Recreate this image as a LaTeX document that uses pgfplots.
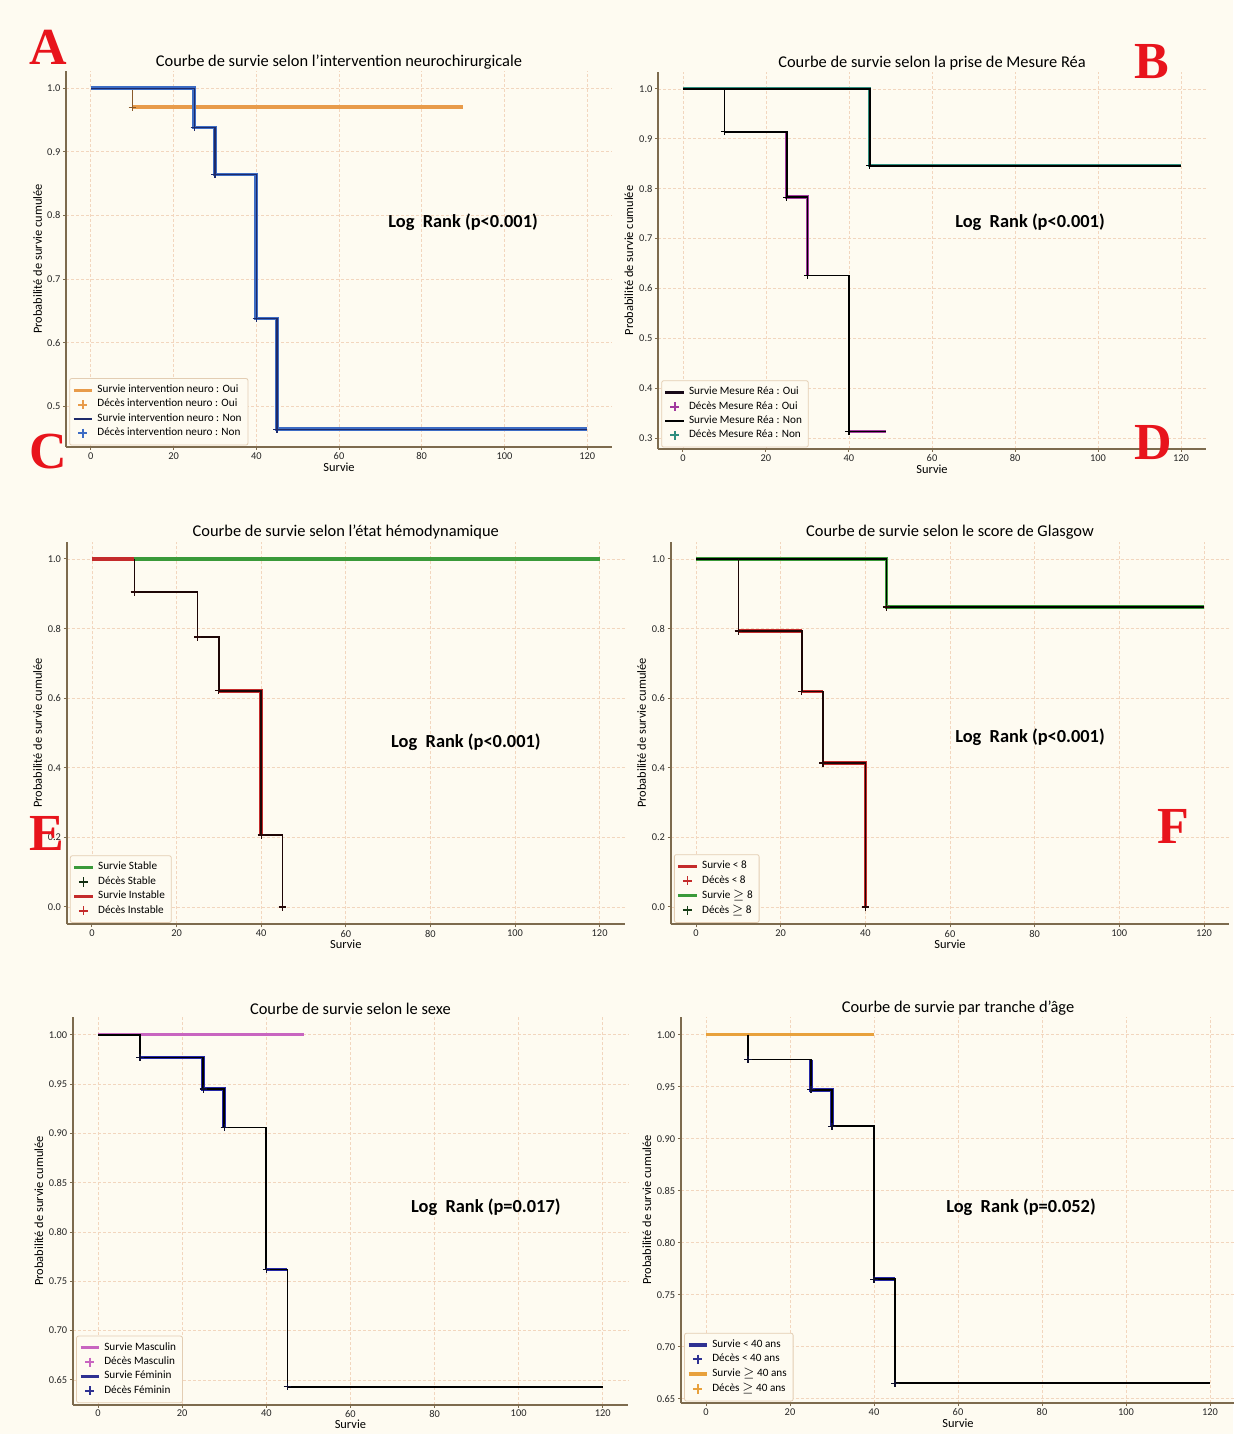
\documentclass[border=0pt]{standalone}
\usepackage{fontspec}
\setmainfont{Carlito}
\newfontfamily\letterfont{Liberation Serif}
\usepackage{pgfplots}
\pgfplotsset{compat=1.18}
\definecolor{bg}{HTML}{FEFBF1}
\definecolor{gridc}{HTML}{F2D6BE}
\definecolor{spine}{HTML}{7D6B4E}
\definecolor{legc}{HTML}{E3CDB3}
\definecolor{orangeA}{HTML}{E89B4A}
\definecolor{brownA}{HTML}{8A5A2A}
\definecolor{blueA}{HTML}{3D6CC4}
\definecolor{navyA}{HTML}{1E2A6A}
\definecolor{magB}{HTML}{A23A9E}
\definecolor{tealB}{HTML}{2F8F7F}
\definecolor{greenE}{HTML}{3A9A3A}
\definecolor{redE}{HTML}{C42B2B}
\definecolor{orchidG}{HTML}{C865C0}
\definecolor{navyG}{HTML}{2E3192}
\definecolor{orangeH}{HTML}{E8A13C}
\definecolor{letterred}{HTML}{E8141C}
\tikzset{lr/.style={font=\bfseries\fontsize{9.2}{11}\selectfont}}
\pgfplotsset{
 km/.style={
  scale only axis,
  axis x line*=bottom, axis y line*=left,
  axis line style={spine, line width=1.1pt},
  xmin=-6, xmax=126,
  xtick={0,20,40,60,80,100,120},
  grid=major,
  grid style={gridc, dash pattern=on 1.5pt off 1pt, line width=0.4pt},
  tick style={spine, line width=0.5pt},
  major tick length=1.5pt,
  tick align=outside,
  ticklabel style={font=\fontsize{5.2}{6}\selectfont, text=black!85, inner sep=0.6pt},
  xticklabel style={yshift=-0.5pt},
  yticklabel style={xshift=-0.5pt},
  /pgf/number format/assume math mode=true,
  every axis title shift=0pt,
  title style={font=\fontsize{8.2}{10}\selectfont, at={(0.5,1)}, anchor=south, yshift=-2.5pt},
  xlabel=Survie,
  ylabel={Probabilité de survie cumulée},
  xlabel style={font=\fontsize{6.2}{7}\selectfont, at={(axis description cs:0.5,0)}, anchor=center, yshift=-10pt},
  ylabel style={font=\fontsize{6.2}{7}\selectfont, at={(axis description cs:-0.052,0.5)}, anchor=center},
  legend style={at={(0.006,0.004)}, anchor=south west, font=\fontsize{5.6}{6.2}\selectfont,
    draw=legc, fill=bg, rounded corners=1pt, inner sep=1.2pt, row sep=-2.2pt, cells={anchor=west}},
  legend cell align=left,
  legend image code/.code={\draw[mark repeat=2,mark phase=2,##1] plot coordinates {(0cm,0cm) (0.16cm,0cm) (0.32cm,0cm)};},
 },
 s/.style={const plot, forget plot},
 deaths/.style={forget plot, only marks, mark=+, mark size=1.8pt, line width=0.6pt, #1},
 legdeath/.style={only marks, mark=+, mark size=2.3pt, line width=0.9pt, #1},
}
\begin{document}
\begin{tikzpicture}
\path[use as bounding box, fill=bg] (0,0) rectangle (616.5pt,717pt);

% ---------- A ----------
\begin{axis}[km, at={(33pt,493.5pt)}, anchor=south west, width=273pt, height=188pt,
  ymin=0.436, ymax=1.027, ytick={0.5,0.6,0.7,0.8,0.9,1.0},
  yticklabel style={/pgf/number format/.cd, fixed, fixed zerofill, precision=1},
  title={Courbe de survie selon l'intervention neurochirurgicale}]
\addlegendimage{orangeA, line width=1.6pt}
\addlegendentry{Survie intervention neuro : Oui}
\addlegendimage{legdeath=orangeA}
\addlegendentry{Décès intervention neuro : Oui}
\addlegendimage{navyA, line width=0.7pt}
\addlegendentry{Survie intervention neuro : Non}
\addlegendimage{legdeath=blueA}
\addlegendentry{Décès intervention neuro : Non}
\addplot[s, orangeA, line width=1.8pt] coordinates {(10,0.97) (90,0.97)};
\addplot[s, brownA, line width=0.6pt] coordinates {(0,1) (10,0.97)};
\addplot[s, blueA, line width=1.8pt] coordinates {(0,1) (25,0.938) (30,0.864) (40,0.638) (45,0.464) (120,0.464)};
\addplot[s, navyA, line width=0.6pt] coordinates {(0,1) (25,0.938) (30,0.864) (40,0.638) (45,0.464) (120,0.464)};
\addplot[deaths=brownA] coordinates {(10,0.97)};
\addplot[deaths=navyA] coordinates {(25,0.938) (30,0.864) (40,0.638) (45,0.464)};
\node[lr] at (axis cs:90,0.79) {Log~~Rank (p<0.001)};
\end{axis}

% ---------- B ----------
\begin{axis}[km, at={(329pt,492.5pt)}, anchor=south west, width=274pt, height=188.5pt,
  ymin=0.278, ymax=1.034, ytick={0.3,0.4,0.5,0.6,0.7,0.8,0.9,1.0},
  yticklabel style={/pgf/number format/.cd, fixed, fixed zerofill, precision=1},
  ylabel style={at={(axis description cs:-0.053,0.5)}},
  title={Courbe de survie selon la prise de Mesure Réa}]
\addlegendimage{black!85!magB, line width=1.4pt}
\addlegendentry{Survie Mesure Réa : Oui}
\addlegendimage{legdeath=magB}
\addlegendentry{Décès Mesure Réa : Oui}
\addlegendimage{black, line width=0.7pt}
\addlegendentry{Survie Mesure Réa : Non}
\addlegendimage{legdeath=tealB}
\addlegendentry{Décès Mesure Réa : Non}
\addplot[s, tealB, line width=1.5pt] coordinates {(0,1) (45,0.846) (120,0.846)};
\addplot[s, black, line width=0.8pt] coordinates {(0,1) (45,0.846) (120,0.846)};
\addplot[s, magB, line width=1.7pt] coordinates {(25,0.914) (25,0.783) (30,0.626)};
\addplot[s, magB, line width=1.7pt] coordinates {(40,0.313) (49,0.313)};
\addplot[s, magB!60, line width=1.2pt] coordinates {(0,1) (10,1)};
\addplot[s, black, line width=0.8pt] coordinates {(0,1) (10,0.914) (25,0.783) (30,0.626) (40,0.313) (49,0.313)};
\addplot[deaths=black] coordinates {(10,0.914) (25,0.783) (30,0.626) (40,0.313) (45,0.846)};
\node[lr] at (axis cs:83.6,0.733) {Log~~Rank (p<0.001)};
\end{axis}

% ---------- E ----------
\begin{axis}[km, at={(33.3pt,254.8pt)}, anchor=south west, width=279.2pt, height=191.4pt,
  ymin=-0.05, ymax=1.05, ytick={0,0.2,0.4,0.6,0.8,1.0},
  yticklabel style={/pgf/number format/.cd, fixed, fixed zerofill, precision=1},
  title={Courbe de survie selon l'état hémodynamique}]
\addlegendimage{greenE, line width=1.6pt}
\addlegendentry{Survie Stable}
\addlegendimage{legdeath=black!70!greenE}
\addlegendentry{Décès Stable}
\addlegendimage{redE, line width=1.6pt}
\addlegendentry{Survie Instable}
\addlegendimage{legdeath=redE}
\addlegendentry{Décès Instable}
\addplot[s, greenE, line width=1.8pt] coordinates {(0,1) (120,1)};
\addplot[s, redE, line width=1.8pt] coordinates {(0,1) (10,1)};
\addplot[s, redE, line width=1.3pt] coordinates {(10,0.905) (25,0.905)};
\addplot[s, redE, line width=1.8pt] coordinates {(30,0.621) (40,0.207)};
\addplot[s, black!85!redE, line width=0.7pt] coordinates {(10,1) (10,0.905) (25,0.776) (30,0.621) (40,0.207) (45,0)};
\addplot[deaths=black!80!redE] coordinates {(10,0.905) (25,0.776) (30,0.621) (40,0.207) (45,0)};
\node[lr] at (axis cs:88.4,0.474) {Log~~Rank (p<0.001)};
\end{axis}

% ---------- F ----------
\begin{axis}[km, at={(335.3pt,254.8pt)}, anchor=south west, width=279.4pt, height=191.4pt,
  ymin=-0.05, ymax=1.05, ytick={0,0.2,0.4,0.6,0.8,1.0},
  yticklabel style={/pgf/number format/.cd, fixed, fixed zerofill, precision=1},
  title={Courbe de survie selon le score de Glasgow}]
\addlegendimage{redE, line width=1.6pt}
\addlegendentry{Survie < 8}
\addlegendimage{legdeath=redE}
\addlegendentry{Décès < 8}
\addlegendimage{greenE, line width=1.6pt}
\addlegendentry{Survie $\geq$ 8}
\addlegendimage{legdeath=black!60!greenE}
\addlegendentry{Décès $\geq$ 8}
\addplot[s, greenE, line width=1.6pt] coordinates {(0,1) (45,0.862) (120,0.862)};
\addplot[s, black, line width=0.8pt] coordinates {(0,1) (45,0.862) (120,0.862)};
\addplot[s, redE, line width=1.7pt] coordinates {(10,0.793) (25,0.793)};
\addplot[s, redE, line width=1.7pt] coordinates {(25,0.62) (30,0.62)};
\addplot[s, redE, line width=1.7pt] coordinates {(30,0.414) (40,0)};
\addplot[s, black!85!redE, line width=0.7pt] coordinates {(10,1) (10,0.793) (25,0.62) (30,0.414) (40,0)};
\addplot[deaths=black!80!redE] coordinates {(10,0.793) (25,0.62) (30,0.414) (40,0) (45,0.862)};
\node[lr] at (axis cs:78.9,0.489) {Log~~Rank (p<0.001)};
\end{axis}

% ---------- G ----------
\begin{axis}[km, at={(36.4pt,14.7pt)}, anchor=south west, width=277.6pt, height=193.8pt,
  ymin=0.625, ymax=1.018, ytick={0.65,0.70,0.75,0.80,0.85,0.90,0.95,1.00},
  yticklabel style={/pgf/number format/.cd, fixed, fixed zerofill, precision=2},
  ylabel style={at={(axis description cs:-0.061,0.5)}},
  title={Courbe de survie selon le sexe}]
\addlegendimage{orchidG, line width=1.6pt}
\addlegendentry{Survie Masculin}
\addlegendimage{legdeath=orchidG}
\addlegendentry{Décès Masculin}
\addlegendimage{navyG, line width=1.6pt}
\addlegendentry{Survie Féminin}
\addlegendimage{legdeath=navyG}
\addlegendentry{Décès Féminin}
\addplot[s, orchidG, line width=1.6pt] coordinates {(0,1) (49,1)};
\addplot[s, navyG!80!blue, line width=1.8pt] coordinates {(10,0.977) (25,0.945) (30,0.906)};
\addplot[s, navyG!80!blue, line width=1.8pt] coordinates {(40,0.762) (45,0.762)};
\addplot[s, black, line width=0.8pt] coordinates {(0,1) (10,0.977) (25,0.945) (30,0.906) (40,0.762) (45,0.643) (120,0.643)};
\addplot[deaths=black!70!navyG] coordinates {(10,0.977) (25,0.945) (30,0.906) (40,0.762) (45,0.643)};
\node[lr] at (axis cs:92.2,0.8255) {Log~~Rank (p=0.017)};
\end{axis}

% ---------- H ----------
\begin{axis}[km, at={(340.4pt,15.5pt)}, anchor=south west, width=277.2pt, height=193pt,
  ymin=0.646, ymax=1.017, ytick={0.65,0.70,0.75,0.80,0.85,0.90,0.95,1.00},
  yticklabel style={/pgf/number format/.cd, fixed, fixed zerofill, precision=2},
  ylabel style={at={(axis description cs:-0.061,0.5)}},
  title={Courbe de survie par tranche d'âge}]
\addlegendimage{navyG, line width=1.6pt}
\addlegendentry{Survie < 40 ans}
\addlegendimage{legdeath=navyG}
\addlegendentry{Décès < 40 ans}
\addlegendimage{orangeH, line width=1.6pt}
\addlegendentry{Survie $\geq$ 40 ans}
\addlegendimage{legdeath=orangeH}
\addlegendentry{Décès $\geq$ 40 ans}
\addplot[s, orangeH, line width=1.6pt] coordinates {(0,1) (40,1)};
\addplot[s, navyG!80!blue, line width=1.8pt] coordinates {(25,0.976) (25,0.947) (30,0.912)};
\addplot[s, navyG!80!blue, line width=1.8pt] coordinates {(40,0.765) (45,0.765)};
\addplot[s, navyG!70!blue, line width=1.1pt] coordinates {(10,1) (10,0.976)};
\addplot[s, black, line width=0.8pt] coordinates {(10,1) (10,0.976) (25,0.947) (30,0.912) (40,0.765) (45,0.665) (120,0.665)};
\addplot[deaths=black!70!navyG] coordinates {(10,0.976) (25,0.947) (30,0.912) (40,0.765) (45,0.665)};
\node[lr] at (axis cs:75,0.8346) {Log~~Rank (p=0.052)};
\end{axis}

% ---------- panel letters ----------
\begin{scope}[every node/.style={font=\letterfont\bfseries\fontsize{26}{28}\selectfont, text=letterred, inner sep=0pt}]
\node at (24pt,693.5pt) {A};
\node at (576pt,686pt) {B};
\node at (24pt,491pt) {C};
\node at (576.5pt,495.5pt) {D};
\node at (23.5pt,300.5pt) {E};
\node at (586.5pt,304pt) {F};
\end{scope}
\end{tikzpicture}
\end{document}
